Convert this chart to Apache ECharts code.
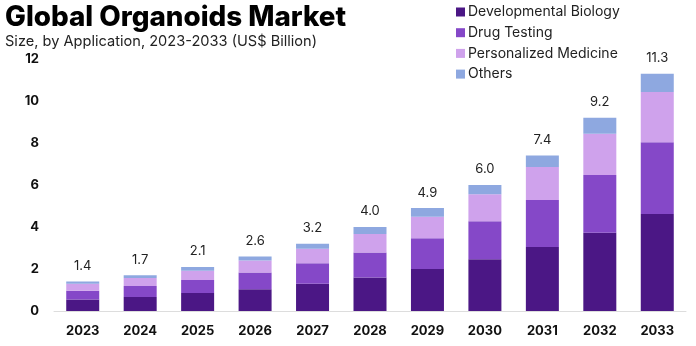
<!DOCTYPE html>
<html>
<head>
<meta charset="utf-8">
<script src="https://cdn.jsdelivr.net/npm/echarts@6/dist/echarts.min.js"></script>
<style>
  html, body { margin: 0; padding: 0; background: #ffffff; }
  #chart { width: 696px; height: 346px; }
</style>
</head>
<body>
<div id="chart"></div>
<script>
// Global organoids market by application, US$ billion
const years = ['2023', '2024', '2025', '2026', '2027', '2028', '2029', '2030', '2031', '2032', '2033'];
const developmentalBiology = [0.55, 0.67, 0.86, 1.04, 1.30, 1.60, 2.00, 2.46, 3.05, 3.73, 4.62];
const drugTesting          = [0.42, 0.52, 0.62, 0.79, 0.97, 1.19, 1.46, 1.81, 2.24, 2.75, 3.41];
const personalizedMedicine = [0.33, 0.38, 0.44, 0.58, 0.70, 0.88, 1.03, 1.29, 1.57, 1.96, 2.40];
const others               = [0.10, 0.13, 0.18, 0.19, 0.23, 0.33, 0.41, 0.44, 0.54, 0.76, 0.87];
const totals               = [1.4, 1.7, 2.1, 2.6, 3.2, 4.0, 4.9, 6.0, 7.4, 9.2, 11.3];
const yTicks = [0, 2, 4, 6, 8, 10, 12];

const seriesNames = ['Developmental Biology', 'Drug Testing', 'Personalized Medicine', 'Others'];
const seriesColors = ['#4b1785', '#8548c8', '#cfa2ec', '#8ea8e0'];
const seriesData = [developmentalBiology, drugTesting, personalizedMedicine, others];

const FONT = 'Inter, "Noto Sans", sans-serif';

const chart = echarts.init(document.getElementById('chart'), null, { renderer: 'canvas' });

const series = seriesData.map((data, i) => ({
  name: seriesNames[i],
  type: 'bar',
  stack: 'total',
  data: data,
  barWidth: 33,
  itemStyle: { color: seriesColors[i] },
  emphasis: { disabled: true },
  label: i === seriesData.length - 1 ? {
    show: true,
    position: 'top',
    distance: 9,
    formatter: p => totals[p.dataIndex].toFixed(1),
    color: '#222222',
    fontFamily: FONT,
    fontSize: 13
  } : { show: false }
}));

chart.setOption({
  animation: false,
  backgroundColor: '#ffffff',
  title: [
    {
      text: 'Global Organoids Market',
      left: 0, top: -1,
      textStyle: { fontFamily: FONT, fontWeight: 800, fontSize: 27.8, color: '#000000' }
    },
    {
      text: 'Size, by Application, 2023-2033 (US$ Billion)',
      left: 0, top: 29,
      textStyle: { fontFamily: FONT, fontWeight: 'normal', fontSize: 14.6, color: '#222222' }
    }
  ],
  legend: {
    orient: 'vertical',
    left: 451, top: 0,
    itemWidth: 9, itemHeight: 9,
    itemGap: 6.7,
    icon: 'rect',
    data: seriesNames,
    textStyle: { fontFamily: FONT, fontSize: 14, color: '#222222', padding: [0, 0, 0, -2] }
  },
  grid: { left: 54, right: 10, top: 59, bottom: 35 },
  xAxis: {
    type: 'category',
    data: years,
    axisLine: { show: true, lineStyle: { color: '#dddddd', width: 1 } },
    axisTick: { show: false },
    axisLabel: { fontFamily: FONT, fontWeight: 'bold', fontSize: 13, color: '#111111', margin: 14 }
  },
  yAxis: {
    type: 'value',
    min: yTicks[0],
    max: yTicks[yTicks.length - 1],
    interval: yTicks[1] - yTicks[0],
    splitLine: { show: false },
    axisLine: { show: false },
    axisTick: { show: false },
    axisLabel: { fontFamily: FONT, fontWeight: 'bold', fontSize: 13, color: '#111111', margin: 15 }
  },
  series: series
});
</script>
</body>
</html>
